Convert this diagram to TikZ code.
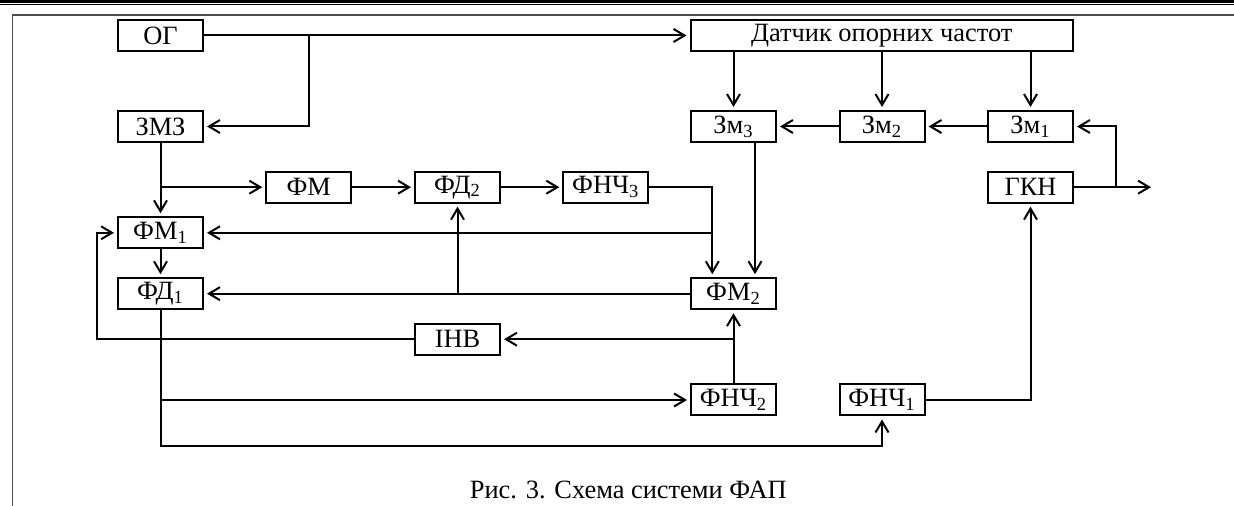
\documentclass[tikz,border=0pt]{standalone}
\usepackage{fontspec}
\setmainfont{Liberation Serif}
\usetikzlibrary{arrows.meta}
\tikzset{
  blok/.style={draw, line width=1pt, minimum height=15.5pt, minimum width=42.5pt, inner sep=0pt, font=\fontsize{13.2}{15}\selectfont},
  strl/.style={-{Straight Barb[length=5.5pt,width=6.5pt]}, shorten >=1.5pt},
}
\begin{document}
\begin{tikzpicture}[x=0.5pt, y=-0.5pt, line width=1pt]
\useasboundingbox (0,0) rectangle (1234,506);
\draw[line width=1.3pt] (0,1.3) -- (1234,1.3);
\draw[line width=0.6pt] (0,4.5) -- (1234,4.5);
\draw[black!70, line width=0.8pt] (12.5,506) -- (12.5,15) -- (1234,15);

\node[blok] (og) at (160.5,35.5) {ОГ};
\node[blok, minimum width=191.25pt] (dat) at (881.75,35.5) {Датчик опорних частот};
\node[blok] (zmz) at (160.5,126.5) {ЗМЗ};
\node[blok] (zm3) at (733.5,126.5) {Зм\textsubscript{3}};
\node[blok] (zm2) at (882,126.5) {Зм\textsubscript{2}};
\node[blok] (zm1) at (1030.5,126.5) {Зм\textsubscript{1}};
\node[blok] (fm) at (308.8,187.2) {ФМ};
\node[blok] (fd2) at (457.5,187.2) {ФД\textsubscript{2}};
\node[blok] (fnch3) at (605.8,187.2) {ФНЧ\textsubscript{3}};
\node[blok] (gkn) at (1030.5,187.2) {ГКН};
\node[blok] (fm1) at (160.5,232.8) {ФМ\textsubscript{1}};
\node[blok] (fd1) at (160.5,293.7) {ФД\textsubscript{1}};
\node[blok] (fm2) at (733.5,293.7) {ФМ\textsubscript{2}};
\node[blok] (inv) at (457.5,339.2) {ІНВ};
\node[blok] (fnch2) at (733.5,400) {ФНЧ\textsubscript{2}};
\node[blok] (fnch1) at (882,400) {ФНЧ\textsubscript{1}};
\node[anchor=base, font=\fontsize{13.2}{15}\selectfont] (cap) at (628.3,498.3) {Рис. 3. Схема системи ФАП};

\coordinate (v1) at (308.5,35.5);
\coordinate (v2) at (1115.7,187.2);
\coordinate (vyh) at (1154,187.2);
\coordinate (lv) at (96.7,339.2);
\coordinate (nz) at (160.5,445.7);

\draw[strl] (og) -- (dat);
\draw[strl] (v1) |- (zmz);
\draw[strl] (dat.south -| zm3) -- (zm3);
\draw[strl] (dat.south -| zm2) -- (zm2);
\draw[strl] (dat.south -| zm1) -- (zm1);
\draw[strl] (zm1) -- (zm2);
\draw[strl] (zm2) -- (zm3);
\draw[strl] (gkn) -- (vyh);
\draw[strl] (v2) |- (zm1);
\draw[strl] (fnch1.east) -| (gkn.south);
\draw[strl] (zmz) -- (fm1);
\draw[strl] (zmz.south |- fm) -- (fm);
\draw[strl] (fm) -- (fd2);
\draw[strl] (fd2) -- (fnch3);
\draw[strl] (fnch3.east) -| ([xshift=-10.6pt]fm2.north);
\draw[strl] ([xshift=-10.6pt]fm2.north |- fm1) -- (fm1);
\draw[strl] ([xshift=10.75pt]zm3.south) -- ([xshift=10.75pt]fm2.north);
\draw[strl] (fm1) -- (fd1);
\draw[strl] (fm2) -- (fd1);
\draw[strl] (fd2 |- fm2) -- (fd2);
\draw[strl] (fnch2) -- (fm2);
\draw[strl] (fnch2 |- inv) -- (inv);
\draw[strl] (inv) -- (lv) |- (fm1);
\draw[strl] (fd1.south) |- (fnch2.west);
\draw[strl] (fd1.south) -- (nz) -| (fnch1.south);
\end{tikzpicture}
\end{document}
